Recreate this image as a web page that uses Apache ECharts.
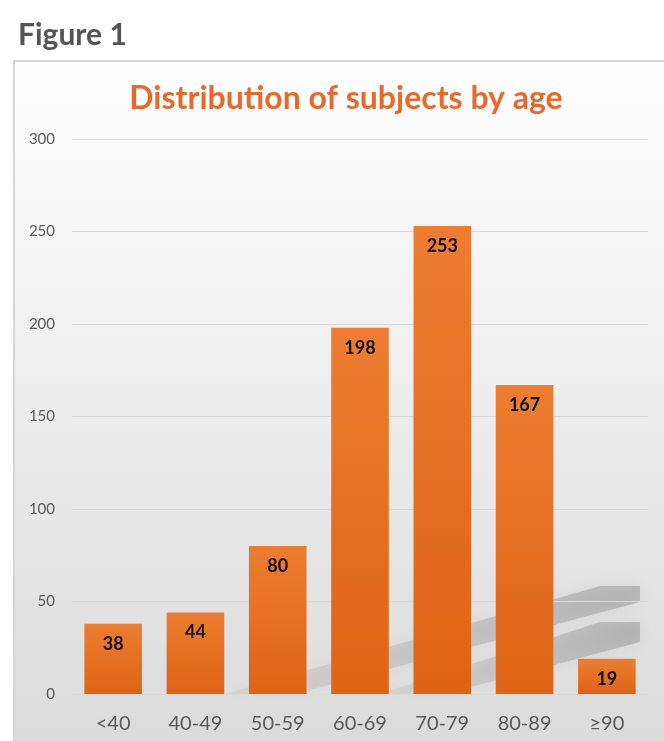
<!DOCTYPE html>
<html style="height: 100%">
<head>
  <meta charset="utf-8">
  <script src="https://cdn.jsdelivr.net/npm/echarts@6/dist/echarts.min.js"></script>
</head>
<body style="height: 100%; margin: 0; background: #fff">
  <div id="ageChart" style="width: 664px; height: 741px"></div>
  <script type="text/javascript">
    // data
    var ageGroups = ['<40', '40-49', '50-59', '60-69', '70-79', '80-89', '≥90'];
    var subjects = [38, 44, 80, 198, 253, 167, 19];
    var yTicks = [0, 50, 100, 150, 200, 250, 300];

    var orange = '#E8692A';
    var font = 'Lato, "Open Sans", sans-serif';

    var myChart = echarts.init(document.getElementById('ageChart'));
    var option = {
      animation: false,
      title: {
        text: 'Distribution of subjects by age',
        left: 341, top: 78, textAlign: 'center',
        textStyle: { color: orange, fontSize: 32, fontWeight: 'bold', fontFamily: font }
      },
      graphic: [
        // chart box with soft gradient
        {
          type: 'rect', z: -10, silent: true,
          shape: { x: 14, y: 61, width: 670, height: 700 },
          style: {
            fill: new echarts.graphic.LinearGradient(0, 0, 0, 1, [
              { offset: 0, color: '#ffffff' },
              { offset: 0.35, color: '#f2f2f2' },
              { offset: 1, color: '#dadada' }
            ]),
            stroke: '#d6d6d6', lineWidth: 2
          }
        },
        // faint diagonal reflections behind the bars
        {
          type: 'polygon', z: -5, silent: true,
          shape: { points: [[225, 694], [295, 694], [640, 602], [640, 586], [600, 586]] },
          style: {
            fill: new echarts.graphic.LinearGradient(0, 0, 1, 0, [
              { offset: 0, color: 'rgba(140,140,140,0.12)' },
              { offset: 1, color: 'rgba(110,110,110,0.35)' }
            ]),
            shadowBlur: 14, shadowColor: 'rgba(120,120,120,0.35)'
          }
        },
        {
          type: 'polygon', z: -5, silent: true,
          shape: { points: [[380, 694], [445, 694], [640, 642], [640, 622], [600, 622]] },
          style: {
            fill: new echarts.graphic.LinearGradient(0, 0, 1, 0, [
              { offset: 0, color: 'rgba(140,140,140,0.12)' },
              { offset: 1, color: 'rgba(110,110,110,0.35)' }
            ]),
            shadowBlur: 14, shadowColor: 'rgba(120,120,120,0.35)'
          }
        },
        {
          type: 'text', left: 18, top: 20, silent: true,
          style: { text: 'Figure 1', fill: '#555555', font: 'bold 30px ' + font }
        }
      ],
      grid: { left: 72, right: 16, top: 139, bottom: 47 },
      xAxis: {
        type: 'category',
        data: ageGroups,
        axisLine: { show: false },
        axisTick: { show: false },
        axisLabel: { color: '#595959', fontSize: 20, margin: 20, fontFamily: font }
      },
      yAxis: {
        type: 'value',
        min: yTicks[0], max: yTicks[yTicks.length - 1], interval: 50,
        axisLine: { show: false },
        axisTick: { show: false },
        axisLabel: { color: '#595959', fontSize: 15, margin: 17, fontFamily: font },
        splitLine: { lineStyle: { color: '#d9d9d9', width: 1 } }
      },
      series: [{
        name: 'Subjects',
        type: 'bar',
        data: subjects,
        barWidth: '70%',
        itemStyle: {
          color: new echarts.graphic.LinearGradient(0, 0, 0, 1, [
            { offset: 0, color: '#ED7D31' },
            { offset: 1, color: '#DF6315' }
          ])
        },
        label: {
          show: true, position: 'insideTop', distance: 11,
          color: '#111', fontSize: 18, fontWeight: 'bold', fontFamily: font
        }
      }]
    };
    myChart.setOption(option);
  </script>
</body>
</html>
